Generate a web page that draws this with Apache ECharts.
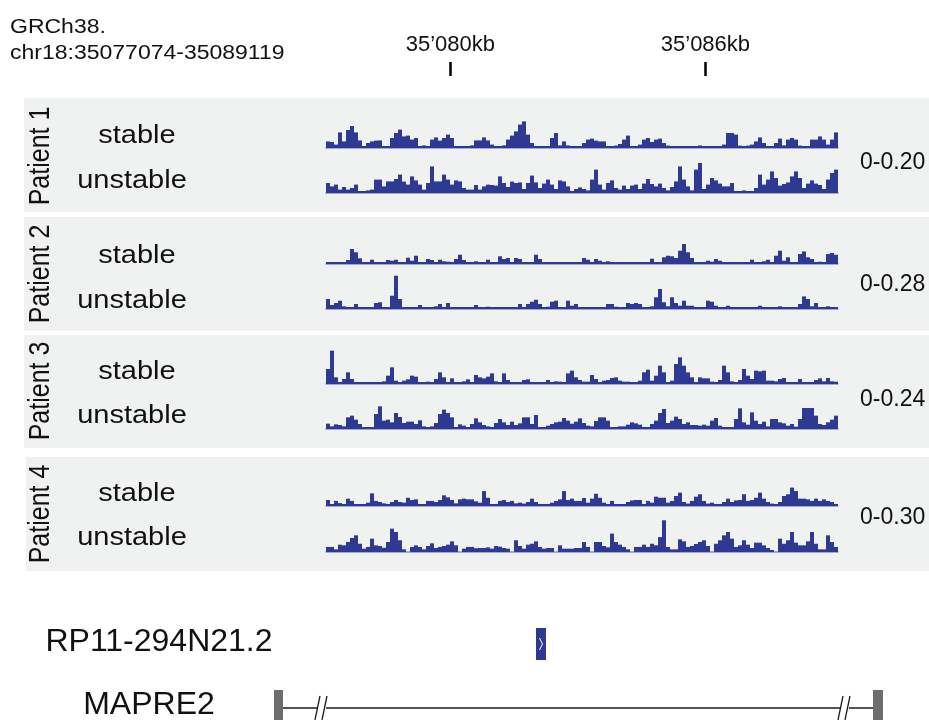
<!DOCTYPE html>
<html><head><meta charset="utf-8">
<script src="https://cdn.jsdelivr.net/npm/echarts@6/dist/echarts.min.js"></script>
<style>html,body{margin:0;padding:0;background:#fff}#c{width:929px;height:720px}</style>
</head><body><div id="c"></div>
<script>
// ---------------- data ----------------
const assembly = 'GRCh38.';
const chrom = 'chr18';
const regionStart = 35077074;
const regionEnd = 35089119;
const tickValues = [35080000, 35086000];
const patients = ['Patient 1', 'Patient 2', 'Patient 3', 'Patient 4'];
const conditions = ['stable', 'unstable'];
const scaleMax = [0.20, 0.28, 0.24, 0.30];

// coverage, 128 equal bins across the region
const p1Stable = [.033,.03,.017,.078,.033,.09,.11,.078,.038,.008,.025,.033,.037,.038,.008,0,.05,.075,.092,.058,.062,.042,.05,.005,.013,.005,.042,.053,.037,.05,.067,.05,0,0,0,0,.013,.038,.038,.053,.038,.017,0,0,.013,.042,.062,.083,.117,.133,.067,.025,0,0,0,.005,.05,.075,.013,.033,.013,.005,0,.005,.025,.042,.047,.037,.033,.033,.005,.008,.012,.02,.042,.062,.008,.003,.017,.042,.05,.03,.042,.047,.025,.012,0,0,0,0,0,0,.008,.013,0,0,0,0,0,.017,.075,.075,.067,.012,.008,.012,.017,.033,.053,.025,.005,.005,.025,.047,.013,.042,.05,.042,.012,.003,.003,.042,.042,.058,.042,.017,.042,.078];
const p1Unstable = [.05,.033,.042,.017,.03,.017,.025,.042,.005,.003,.013,.017,.067,.067,.033,.058,.058,.07,.092,.057,.042,.083,.063,.042,.017,.05,.133,.058,.058,.092,.067,.042,.063,.058,.025,.017,.017,.04,.017,.033,.042,.04,.037,.083,.05,.03,.057,.05,.053,.02,.05,.087,.053,.025,.047,.067,.042,.02,.063,.058,.033,.008,.02,.028,.02,.013,.067,.117,.042,.017,.05,.063,.025,.017,.037,.02,.037,.042,.02,.047,.07,.045,.033,.047,.025,.013,.03,.058,.133,.067,.033,.013,.117,.15,.02,.042,.075,.063,.047,.033,.033,.05,.005,0,.013,.008,.007,.025,.092,.042,.067,.108,.075,.037,.045,.053,.083,.108,.075,.025,.047,.063,.047,.04,.02,.067,.1,.117];
const p2Stable = [0,0,.012,.005,.012,.028,.105,.082,.04,.007,.012,.03,.007,.007,.012,.028,.023,.03,.005,.005,.044,.023,.058,.012,.007,.035,.028,.007,.03,.019,.016,.007,.035,.065,.028,.007,.012,.019,.007,.012,.03,.007,.007,.054,.035,.042,.012,.042,.035,.012,.007,.007,.065,.035,.012,.012,.007,.007,.007,.007,.007,.012,.014,.012,.042,.03,.014,.035,.023,.009,.019,.005,0,0,0,0,0,0,0,0,.014,.037,.012,.007,.047,.058,.054,.042,.093,.14,.082,.042,.009,.007,.007,.023,.016,.035,.023,.005,0,0,0,0,0,0,.03,0,0,.019,.03,0,.058,.093,.023,.047,0,0,.07,.088,.047,.035,.012,.016,0,.07,.077,.065];
const p2Unstable = [.07,.028,.042,.058,.019,.012,.007,.035,0,0,0,.012,.042,.047,.012,0,.093,.233,.07,.005,.012,.007,.012,.028,.007,0,0,.019,.035,.012,.042,.007,0,0,0,0,0,.028,.012,.012,.016,0,0,0,0,0,0,0,.035,.005,.035,.051,.065,.035,0,.016,.051,.058,0,0,.058,.023,.035,0,0,0,0,0,0,.012,.035,.035,.016,.005,.005,.042,.035,.042,.035,.012,.005,.019,.082,.14,.047,.019,.082,.042,.023,.058,.023,.023,.005,.005,.012,.058,.051,.023,.005,.005,.023,0,0,0,0,0,0,0,.023,.012,0,0,0,.019,.012,0,0,0,.035,.088,.07,.019,.042,.012,.012,.019,.005,.005];
const p3Stable = [.09,.2,.04,.008,.03,.07,.03,0,0,0,0,0,0,0,.016,.05,.1,.02,.004,.02,.028,.05,.044,.004,0,.014,.004,.03,.07,.04,.01,.034,.008,0,.016,.028,.006,.054,.04,.034,.044,.064,.016,.004,.064,.024,.004,.008,.008,.024,.028,.004,0,0,.01,.024,.01,.016,.014,.008,.064,.08,.04,.024,.014,.014,.054,.03,.004,.02,.024,.036,.04,.02,.014,.014,.006,.006,.02,.07,.086,.02,.05,.11,.07,.006,.02,.12,.16,.11,.07,.04,.01,.04,.034,.034,.014,.006,.024,.11,.07,.016,.01,.024,.09,.05,.03,.08,.076,.08,.02,.02,.016,.03,.036,.01,.01,.01,.03,.01,.006,.006,.024,.034,.016,.036,.016,.014];
const p3Unstable = [.032,.016,.028,.024,.016,.07,.08,.056,.03,.004,.004,.01,.09,.136,.05,.056,.04,.096,.072,.036,.044,.044,.03,.052,.016,.004,.016,.036,.09,.116,.096,.07,.01,.028,.02,.012,.03,.064,.04,.024,.016,.01,.036,.06,.04,.024,.044,.024,.034,.07,.07,.03,.084,.004,.004,.02,.03,.04,.044,.066,.05,.032,.044,.064,.036,.02,.016,.048,.07,.07,.05,.012,.006,.016,.016,.026,.04,.034,.026,.006,.006,.03,.05,.096,.12,.036,.05,.074,.06,.03,.04,.024,.024,.02,.026,.02,.05,.066,.02,.006,.004,.004,.06,.124,.04,.026,.1,.05,.03,.044,.016,.06,.06,.04,.034,.02,.03,.014,.06,.126,.126,.126,.08,.03,.024,.04,.056,.08];
const p4Stable = [.045,.012,.038,.022,.012,.055,.038,.005,.003,.012,.025,.095,.038,.03,.02,.012,.03,.045,.03,.025,.062,.045,.05,.012,.01,.038,.038,.03,.045,.08,.065,.045,.02,.05,.055,.05,.05,.035,.025,.112,.062,.012,.008,.038,.045,.03,.038,.02,.025,.018,.03,.055,.03,.015,.005,.01,.025,.038,.05,.112,.045,.055,.038,.038,.06,.025,.055,.092,.062,.025,.003,.038,.005,0,0,.03,.042,.045,.045,.012,.038,.025,.07,.062,.062,.025,.038,.075,.1,.03,.018,.038,.07,.088,.038,.018,.025,.008,.005,.03,.055,.03,.042,.045,.088,.038,.045,.062,.1,.055,.03,.018,.012,.03,.075,.088,.138,.112,.055,.055,.05,.038,.055,.038,.05,.038,.03,0];
const p4Unstable = [.038,.038,.02,.055,.05,.075,.105,.125,.062,.025,.038,.1,.05,.045,.032,.075,.175,.15,.088,.02,null,.038,.05,.038,.02,.045,.065,.03,.038,.045,.055,.08,.05,null,.025,.038,.038,.028,.03,.03,.035,.025,.045,.04,.03,.025,null,.088,.045,.025,.055,.062,.08,.038,.025,.03,.03,null,.05,.025,.025,.025,.03,.03,.075,.038,null,.075,.075,.045,.035,.138,.075,.055,.038,.02,null,.038,.038,.055,.038,.062,.05,.112,.238,.038,.02,.02,.095,.08,.038,.045,.06,.075,.088,.045,null,.062,.088,.125,.15,.1,.038,.05,.088,.055,.03,.07,.07,.05,.03,.015,null,.1,.062,.088,.15,.07,.05,.05,.08,.15,.062,.02,.02,.125,.075,.038];

const tracks = [
  [p1Stable, p1Unstable],
  [p2Stable, p2Unstable],
  [p3Stable, p3Unstable],
  [p4Stable, p4Unstable]
];

// gene annotation (genomic coordinates; MAPRE2 drawn truncated with break marks)
const geneNames = ['RP11-294N21.2', 'MAPRE2'];
const rp11Exons = [[35082014, 35082250]];
const mapre2Exons = [[35075851, 35076062], [35089942, 35090177]];
const mapre2Breaks = [35076956, 35089260];

// ---------------- layout ----------------
const FONT = "'Liberation Sans', Arial, Helvetica, sans-serif";
const BLUE = '#2e3a92';
const TRACK_L = 326, TRACK_W = 512, TRACK_H = 40;
const trackBottoms = [[148, 193], [264, 309], [384, 429], [506, 552]];
const panelBoxes = [[24, 98, 114], [24, 217, 114], [24, 335, 113], [26, 457, 114]];
const patientY = [156, 274, 391, 514];
const stableY = [136, 256, 372, 494];
const unstableY = [181, 301, 416, 538];
const scaleY = [163, 285, 400, 518];

const nBins = p1Stable.length;
const binIdx = Array.from({length: nBins}, (_, i) => i);

const grids = [{left: TRACK_L, width: TRACK_W, top: 75, height: 1}];
const xAxes = [{
  gridIndex: 0, type: 'value', min: regionStart, max: regionEnd, position: 'top',
  axisLine: {show: false}, splitLine: {show: false},
  axisTick: {show: true, customValues: tickValues, length: 14, lineStyle: {color: '#000', width: 2.5}},
  axisLabel: {
    customValues: tickValues, margin: 19, fontSize: 22, color: '#111', fontFamily: FONT,
    formatter: v => { const s = String(Math.round(v / 1000)); return s.slice(0, s.length - 3) + '\u2019' + s.slice(-3) + 'kb'; }
  }
}];
const yAxes = [{gridIndex: 0, type: 'value', show: false, min: 0, max: 1}];
const series = [];

tracks.forEach((pair, p) => {
  pair.forEach((vals, c) => {
    const gi = grids.length;
    const bottom = trackBottoms[p][c];
    grids.push({left: TRACK_L, width: TRACK_W, top: bottom - TRACK_H, height: TRACK_H});
    xAxes.push({
      gridIndex: gi, type: 'category', data: binIdx, boundaryGap: true, offset: 1,
      axisLine: {show: true, lineStyle: {color: '#8a90c6', width: 1.5}},
      axisTick: {show: false}, axisLabel: {show: false}, splitLine: {show: false}
    });
    yAxes.push({gridIndex: gi, type: 'value', min: 0, max: scaleMax[p], show: false});
    series.push({
      type: 'bar', xAxisIndex: gi, yAxisIndex: gi, data: vals,
      barCategoryGap: '0%', barGap: '0%', barMinHeight: 2,
      itemStyle: {color: BLUE}, silent: true, animation: false
    });
  });
});

// gene grid: row 0 at top edge, row 1 at bottom edge
const gg = grids.length;
grids.push({left: TRACK_L, width: TRACK_W, top: 644, height: 64});
xAxes.push({gridIndex: gg, type: 'value', min: regionStart, max: regionEnd, show: false});
yAxes.push({gridIndex: gg, type: 'category', data: geneNames, inverse: true, boundaryGap: false, show: false});

const geneData = [];
rp11Exons.forEach(e => geneData.push([e[0], e[1], 0, 0]));
geneData.push([mapre2Exons[0][1], mapre2Exons[1][0], 1, 2]);
mapre2Breaks.forEach(b => geneData.push([b, b, 1, 3]));
mapre2Exons.forEach(e => geneData.push([e[0], e[1], 1, 1]));

series.push({
  type: 'custom', xAxisIndex: gg, yAxisIndex: gg, data: geneData, clip: false, silent: true, animation: false,
  renderItem: (params, api) => {
    const s = api.coord([api.value(0), api.value(2)]);
    const e = api.coord([api.value(1), api.value(2)]);
    const kind = api.value(3);
    if (kind === 0) {
      const cx = (s[0] + e[0]) / 2, cy = s[1];
      return {type: 'group', children: [
        {type: 'rect', shape: {x: s[0], y: cy - 16, width: e[0] - s[0], height: 32}, style: {fill: BLUE}},
        {type: 'polyline', shape: {points: [[cx - 1.5, cy - 6], [cx + 1.5, cy], [cx - 1.5, cy + 6]]}, style: {stroke: '#fff', lineWidth: 1, fill: null}}
      ]};
    }
    if (kind === 1) {
      return {type: 'rect', shape: {x: s[0], y: s[1] - 18, width: e[0] - s[0], height: 36}, style: {fill: '#6e6e70'}};
    }
    if (kind === 2) {
      return {type: 'line', shape: {x1: s[0], y1: s[1], x2: e[0], y2: e[1]}, style: {stroke: '#1a1a1a', lineWidth: 1.5}};
    }
    const x = s[0], y = s[1];
    return {type: 'group', children: [
      {type: 'rect', shape: {x: x - 4, y: y - 2, width: 9, height: 4}, style: {fill: '#fff'}},
      {type: 'line', shape: {x1: x - 6, y1: y + 12, x2: x - 1, y2: y - 12}, style: {stroke: '#1a1a1a', lineWidth: 1.3}},
      {type: 'line', shape: {x1: x + 1, y1: y + 12, x2: x + 6, y2: y - 12}, style: {stroke: '#1a1a1a', lineWidth: 1.3}}
    ]};
  }
});

// ---------------- graphic (panels & labels) ----------------
const graphic = [];
panelBoxes.forEach(b => graphic.push({type: 'rect', z: -10, silent: true, shape: {x: b[0], y: b[1], width: 929 - b[0], height: b[2]}, style: {fill: '#f0f1f1'}}));
function txt(t, x, y, size, opts) {
  return Object.assign({
    type: 'text', x: x, y: y, z: 10, silent: true,
    style: {text: t, x: 0, y: 0, fill: '#111', font: size + 'px ' + FONT, textAlign: 'center', textVerticalAlign: 'middle', align: 'center', verticalAlign: 'middle'}
  }, opts || {});
}
function leftTxt(t, x, y, size, opts) {
  const o = txt(t, x, y, size, opts);
  o.style.textAlign = 'left'; o.style.align = 'left';
  return o;
}
graphic.push(leftTxt(assembly, 10, 27, 20, {scaleX: 1.15}));
graphic.push(leftTxt(chrom + ':' + regionStart + '-' + regionEnd, 10, 53, 20, {scaleX: 1.15}));
patients.forEach((name, p) => {
  graphic.push(txt(name, 41.5, patientY[p], 25, {rotation: Math.PI / 2, scaleY: 1.16}));
  graphic.push(txt(conditions[0], 137, stableY[p], 25, {scaleX: 1.16}));
  graphic.push(txt(conditions[1], 132, unstableY[p], 25, {scaleX: 1.16}));
  graphic.push(leftTxt('0-' + scaleMax[p].toFixed(2), 860, scaleY[p], 23));
});
graphic.push(txt(geneNames[0], 159, 642, 32));
graphic.push(txt(geneNames[1], 149, 705, 32));

const chart = echarts.init(document.getElementById('c'), null, {renderer: 'canvas'});
chart.setOption({
  animation: false,
  backgroundColor: '#ffffff',
  grid: grids, xAxis: xAxes, yAxis: yAxes, series: series, graphic: graphic
});
</script></body></html>
